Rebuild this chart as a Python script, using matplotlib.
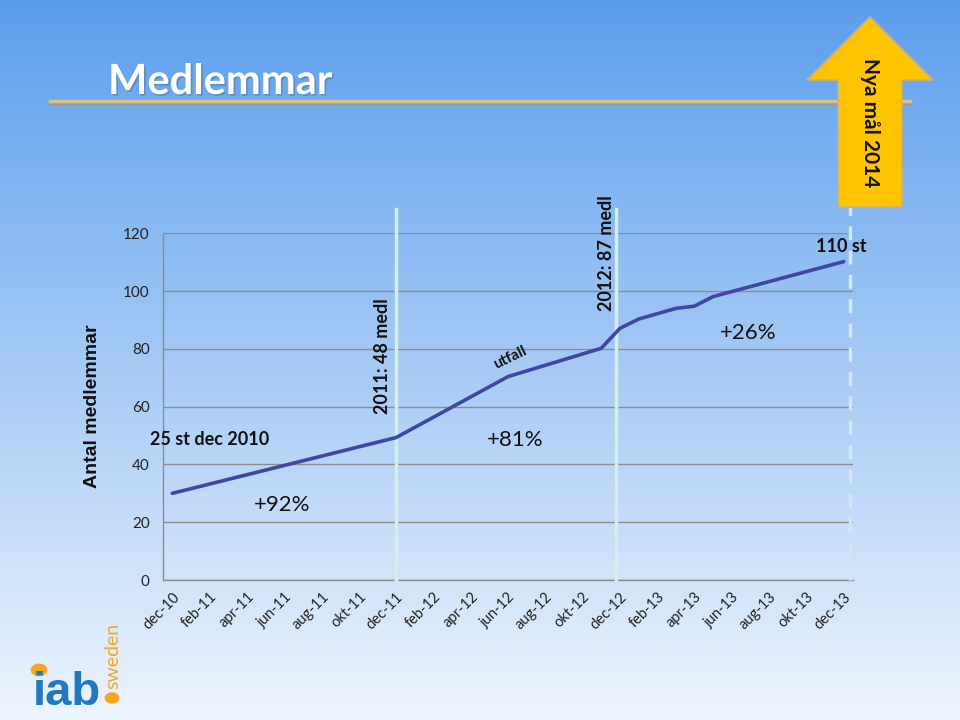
import numpy as np
import matplotlib
matplotlib.use("Agg")
import matplotlib.pyplot as plt
from matplotlib.patches import Polygon
import matplotlib.patheffects as pe

# Data
manader = ["dec-10", "jan-11", "feb-11", "mar-11", "apr-11", "maj-11", "jun-11", "jul-11",
           "aug-11", "sep-11", "okt-11", "nov-11", "dec-11", "jan-12", "feb-12", "mar-12",
           "apr-12", "maj-12", "jun-12", "jul-12", "aug-12", "sep-12", "okt-12", "nov-12",
           "dec-12", "jan-13", "feb-13", "mar-13", "apr-13", "maj-13", "jun-13", "jul-13",
           "aug-13", "sep-13", "okt-13", "nov-13", "dec-13"]
punkt_manader = ["dec-10", "dec-11", "jun-12", "nov-12", "dec-12", "jan-13",
                 "mar-13", "apr-13", "maj-13", "dec-13"]
medlemmar = [30, 49.3, 70.4, 80.2, 87.1, 90.3, 94.0, 94.8, 98.1, 110.2]
y_ticks = [0, 20, 40, 60, 80, 100, 120]

W, H = 960, 720
fig = plt.figure(figsize=(W / 100, H / 100), dpi=100)

def fx(px):
    return px / W

def fy(py):
    return 1 - py / H

# Bakgrund med gradient
bg = fig.add_axes([0, 0, 1, 1], zorder=-10)
top = np.array([0.36, 0.62, 0.93])
bot = np.array([0.93, 0.96, 0.995])
t = np.linspace(0, 1, 256)[:, None]
grad = top * (1 - t) + bot * t
bg.imshow(grad[:, None, :].repeat(2, axis=1), aspect="auto", extent=[0, 1, 0, 1])
bg.set_axis_off()

# Rubrik
fig.text(fx(108), fy(82), "Medlemmar", color="white", fontsize=30, fontweight="bold",
         family="Lato", va="center", ha="left",
         path_effects=[pe.withSimplePatchShadow(offset=(1.2, -1.2), alpha=0.3)])
fig.add_artist(plt.Line2D([fx(50), fx(910)], [fy(103), fy(103)], color="#9a9a9a", lw=2.5))
fig.add_artist(plt.Line2D([fx(50), fx(910)], [fy(101), fy(101)], color="#d8c48a", lw=2.5))

# Diagram
ax = fig.add_axes([fx(163), fy(580), fx(853) - fx(163), fy(233.3) - fy(580)])
ax.patch.set_alpha(0)
x_idx = [manader.index(m) for m in punkt_manader]
ax.plot(x_idx, medlemmar, color="#3f47a2", lw=2.6, solid_capstyle="round", zorder=5)

ax.set_xlim(-0.5, len(manader) - 0.5)
ax.set_ylim(0, 120)
ax.set_yticks(y_ticks)
ax.set_yticklabels([str(v) for v in y_ticks], fontsize=11, family="Lato", color="#222222")
ax.set_xticks(range(0, len(manader), 2))
ax.set_xticklabels(manader[::2], rotation=45, ha="right", va="top", rotation_mode="anchor",
                   fontsize=10.5, family="Lato", color="#222222")
ax.tick_params(axis="both", length=0)
ax.tick_params(axis="y", pad=9.5)
ax.tick_params(axis="x", pad=7)
ax.grid(axis="y", color="#8c8c8c", lw=1)
ax.set_axisbelow(True)
for s in ["top", "right"]:
    ax.spines[s].set_visible(False)
for s in ["left", "bottom"]:
    ax.spines[s].set_color("#8c8c8c")
    ax.spines[s].set_linewidth(1)

ax.set_ylabel("Antal medlemmar", fontsize=14, fontweight="bold", family="Liberation Sans",
              color="#111111", labelpad=16)

# Vertikala markeringar
ax.plot([12, 12], [0, 128.4], color="#d6efe6", lw=2.5, clip_on=False, zorder=4)
ax.plot([23.8, 23.8], [0, 128.4], color="#d6efe6", lw=2.5, clip_on=False, zorder=4)
ax.plot([36.35, 36.35], [0, 129], color="#d2e6f3", lw=2.5, ls=(0, (4, 3)), clip_on=False, zorder=4)

# Texter i diagrammet
ax.text(2.0, 48.5, "25 st dec 2010", fontsize=13, fontweight="bold", family="Lato",
        ha="center", va="center", color="#111111")
ax.text(5.9, 26, "+92%", fontsize=16, family="Lato", ha="center", va="center", color="#111111")
ax.text(18.4, 48.5, "+81%", fontsize=16, family="Lato", ha="center", va="center", color="#111111")
ax.text(30.9, 85.5, "+26%", fontsize=16, family="Lato", ha="center", va="center", color="#111111")
ax.text(18.1, 77, "utfall", fontsize=11, fontweight="bold", family="Lato", rotation=26,
        ha="center", va="center", color="#111111")
ax.text(11.25, 77.5, "2011: 48 medl", fontsize=13, fontweight="bold", family="Lato",
        rotation=90, ha="center", va="center", color="#111111")
ax.text(23.3, 113, "2012: 87 medl", fontsize=13, fontweight="bold", family="Lato",
        rotation=90, ha="center", va="center", color="#111111")
ax.text(35.85, 115.5, "110 st", fontsize=13, fontweight="bold", family="Lato",
        ha="center", va="center", color="#111111")

# Pil "Nya mål 2014"
pil = [(870, 17), (933, 80), (902, 80), (902, 207), (838, 207), (838, 80), (807, 80)]
fig.add_artist(Polygon([(fx(a), fy(b)) for a, b in pil], closed=True, transform=fig.transFigure,
                       facecolor="#ffc400", edgecolor="#c9b27a", lw=1.2, zorder=6))
fig.text(fx(870), fy(123), "Nya mål 2014", rotation=-90, fontsize=15, fontweight="bold",
         family="Lato", ha="center", va="center", color="#111111", zorder=7)

# Logotyp
fig.text(fx(33), fy(705), "iab", fontsize=34, fontweight="bold", family="Liberation Sans",
         color="#1f78c1", ha="left", va="baseline")
fig.add_artist(plt.Circle((fx(39), fy(670)), 0.008, transform=fig.transFigure, color="#f6a623"))
fig.add_artist(plt.Circle((fx(112), fy(698)), 0.007, transform=fig.transFigure, color="#f6a623"))
fig.text(fx(113), fy(656), "sweden", rotation=90, fontsize=14, family="Lato",
         color="#f6a623", ha="center", va="center")

fig.savefig("out.png", dpi=100)
